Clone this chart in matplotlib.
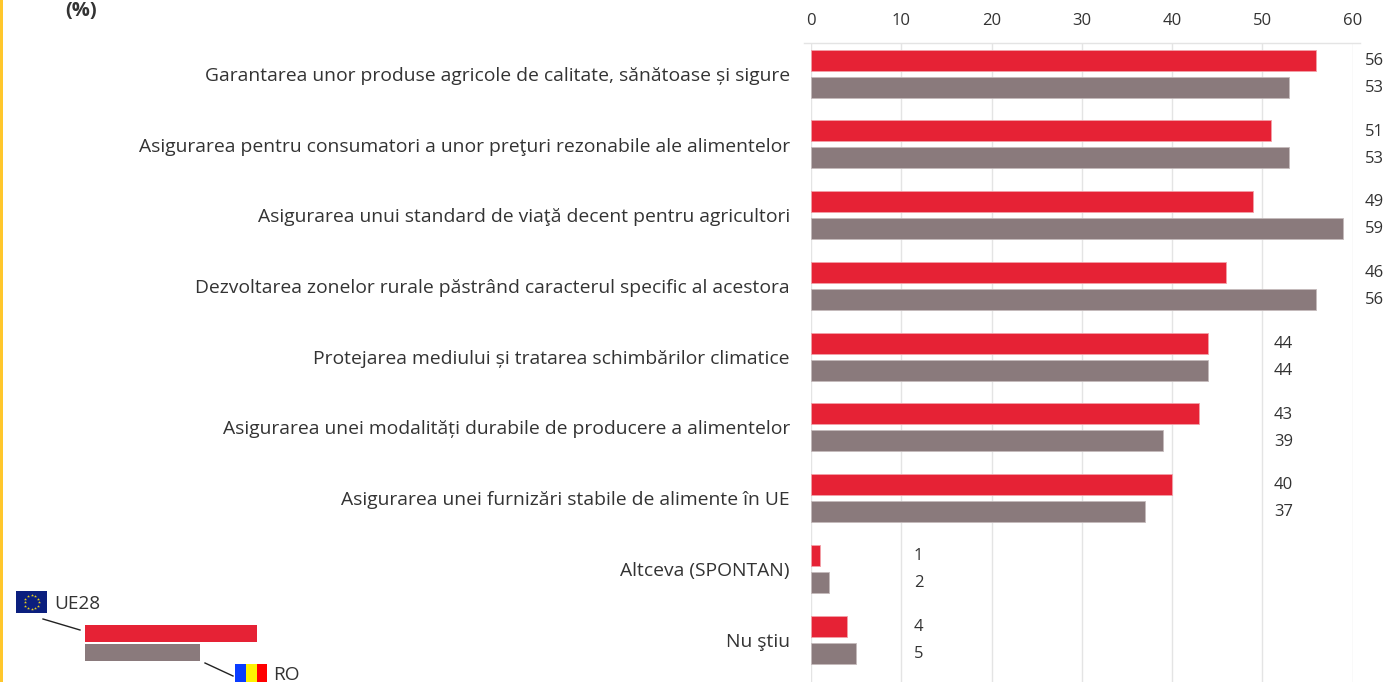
import matplotlib
matplotlib.use("Agg")
import matplotlib.pyplot as plt
from matplotlib.patches import Rectangle

plt.rcParams["font.family"] = ["Open Sans", "DejaVu Sans"]

categories = [
    "Garantarea unor produse agricole de calitate, sănătoase și sigure",
    "Asigurarea pentru consumatori a unor preţuri rezonabile ale alimentelor",
    "Asigurarea unui standard de viaţă decent pentru agricultori",
    "Dezvoltarea zonelor rurale păstrând caracterul specific al acestora",
    "Protejarea mediului și tratarea schimbărilor climatice",
    "Asigurarea unei modalități durabile de producere a alimentelor",
    "Asigurarea unei furnizări stabile de alimente în UE",
    "Altceva (SPONTAN)",
    "Nu ştiu",
]
ue28 = [56, 51, 49, 46, 44, 43, 40, 1, 4]
ro = [53, 53, 59, 56, 44, 39, 37, 2, 5]
xticks = [0, 10, 20, 30, 40, 50, 60]

RED = "#E62235"
GREY = "#8A7A7C"
TEXT = "#333333"
W, H = 1386, 682

fig = plt.figure(figsize=(W / 100, H / 100), dpi=100, facecolor="white")

# axa principala, pozitionata in pixeli
ax = fig.add_axes([811 / W, 0, (1352.5 - 811) / W, 1 - 43 / H])
ax.set_xlim(0, 60)
ax.set_ylim(8.594, -0.438)

for i in range(len(categories)):
    ax.barh(i - 0.195, ue28[i], height=0.297, color=RED, edgecolor="#F2A0A8", linewidth=0.6, zorder=3)
    ax.barh(i + 0.185, ro[i], height=0.297, color=GREY, edgecolor="#C4BABB", linewidth=0.6, zorder=3)

    # etichetele sunt aliniate pe coloane, nu dupa capatul barei
    longest = max(ue28[i], ro[i])
    if longest > 45:
        lx = 61.35
    elif longest > 30:
        lx = 51.3
    else:
        lx = 11.4
    ax.text(lx, i - 0.185, str(ue28[i]), ha="left", va="center", fontsize=12, color=TEXT, clip_on=False)
    ax.text(lx, i + 0.195, str(ro[i]), ha="left", va="center", fontsize=12, color=TEXT, clip_on=False)
    ax.text(-2.35, i + 0.025, categories[i], ha="right", va="center", fontsize=13.85, color=TEXT, clip_on=False)

ax.set_xticks(xticks)
ax.set_yticks([])
ax.xaxis.tick_top()
ax.tick_params(axis="x", length=0, pad=10, labelsize=12, labelcolor=TEXT)
ax.grid(axis="x", color="#E4E4E4", linewidth=1, zorder=0)
for s in ["left", "right", "bottom", "top"]:
    ax.spines[s].set_visible(False)

# strat in pixeli pentru legenda si restul
ov = fig.add_axes([0, 0, 1, 1], facecolor="none")
ov.set_xlim(0, W)
ov.set_ylim(H, 0)
ov.axis("off")

ov.plot([804, 1360], [43, 43], color="#E4E4E4", lw=1)
ov.add_patch(Rectangle((0, 0), 2.5, H, color="#FFC72C", lw=0))
ov.text(65, 11, "(%)", fontsize=14.5, fontweight="bold", color=TEXT, va="center", ha="left")

ov.add_patch(Rectangle((85, 625), 172, 17, color=RED, lw=0))
ov.add_patch(Rectangle((85, 644), 115, 17, color=GREY, lw=0))
ov.plot([43, 80], [619, 630], color="#222222", lw=1)
ov.plot([205, 233], [663, 676], color="#222222", lw=1)

# steag UE
ov.add_patch(Rectangle((16, 591), 31, 22, color="#0B1F7E", lw=0))
star_x = [31.5, 35, 37.6, 38.5, 37.6, 35, 31.5, 28, 25.4, 24.5, 25.4, 28]
star_y = [595, 596, 598.5, 602, 605.5, 608, 609, 608, 605.5, 602, 598.5, 596]
ov.scatter(star_x, star_y, s=5, color="#E8D020", marker="*", lw=0)
ov.text(54, 604, "UE28", fontsize=13.7, color=TEXT, va="center", ha="left")

# steag RO
ov.add_patch(Rectangle((235, 664), 11, 18, color="#0A3CFF", lw=0))
ov.add_patch(Rectangle((246, 664), 11, 18, color="#FFF200", lw=0))
ov.add_patch(Rectangle((257, 664), 10, 18, color="#FF0000", lw=0))
ov.text(273, 675, "RO", fontsize=13.7, color=TEXT, va="center", ha="left")

fig.savefig("out.png", dpi=100)
